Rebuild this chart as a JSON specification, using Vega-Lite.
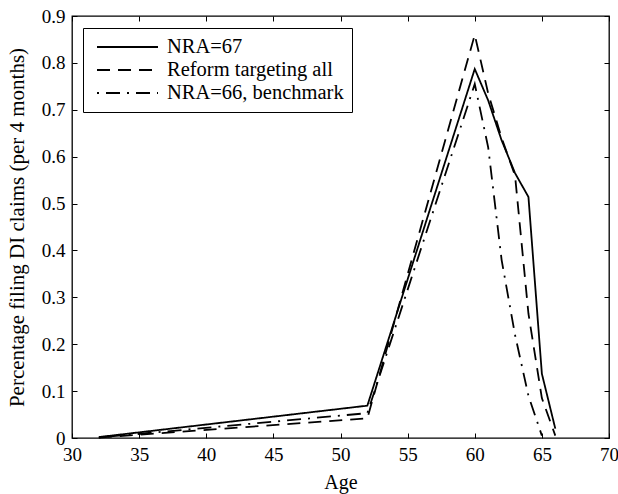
{
  "$schema": "https://vega.github.io/schema/vega-lite/v6.json",
  "width": 537,
  "height": 422,
  "autosize": {"type": "none"},
  "padding": {"left": 72, "top": 16, "right": 9, "bottom": 56},
  "background": "white",
  "config": {
    "font": "Liberation Serif",
    "view": {"stroke": "black", "strokeWidth": 1.3},
    "axis": {"domain": false, "grid": false, "tickColor": "black", "tickSize": -5, "tickWidth": 1, "labelFlush": false, "labelColor": "black", "titleColor": "black", "labelFont": "Liberation Serif", "titleFont": "Liberation Serif", "labelFontSize": 19, "titleFontSize": 20, "titleFontWeight": "normal"}
  },
  "data": {"values": [
    {"series": "NRA=67", "age": 32, "value": 0.002},
    {"series": "NRA=67", "age": 52, "value": 0.069},
    {"series": "NRA=67", "age": 60, "value": 0.787},
    {"series": "NRA=67", "age": 61, "value": 0.72},
    {"series": "NRA=67", "age": 62, "value": 0.635},
    {"series": "NRA=67", "age": 63, "value": 0.565},
    {"series": "NRA=67", "age": 64, "value": 0.514},
    {"series": "NRA=67", "age": 65, "value": 0.137},
    {"series": "NRA=67", "age": 66, "value": 0.02},
    {"series": "Reform targeting all", "age": 32, "value": 0.001},
    {"series": "Reform targeting all", "age": 52, "value": 0.042},
    {"series": "Reform targeting all", "age": 60, "value": 0.86},
    {"series": "Reform targeting all", "age": 61, "value": 0.735},
    {"series": "Reform targeting all", "age": 62, "value": 0.64},
    {"series": "Reform targeting all", "age": 63, "value": 0.56},
    {"series": "Reform targeting all", "age": 64, "value": 0.265},
    {"series": "Reform targeting all", "age": 65, "value": 0.085},
    {"series": "Reform targeting all", "age": 66, "value": 0.005},
    {"series": "NRA=66, benchmark", "age": 32, "value": 0.001},
    {"series": "NRA=66, benchmark", "age": 52, "value": 0.053},
    {"series": "NRA=66, benchmark", "age": 60, "value": 0.755},
    {"series": "NRA=66, benchmark", "age": 61, "value": 0.62},
    {"series": "NRA=66, benchmark", "age": 62, "value": 0.38},
    {"series": "NRA=66, benchmark", "age": 63, "value": 0.22},
    {"series": "NRA=66, benchmark", "age": 64, "value": 0.09},
    {"series": "NRA=66, benchmark", "age": 65, "value": 0.005}
  ]},
  "layer": [
    {
      "mark": {"type": "line", "color": "black", "strokeWidth": 1.8},
      "encoding": {
        "x": {"field": "age", "type": "quantitative", "scale": {"domain": [30, 70], "nice": false},
              "axis": {"orient": "bottom", "values": [30,35,40,45,50,55,60,65,70], "title": "Age", "labelPadding": 12, "titlePadding": 8}},
        "y": {"field": "value", "type": "quantitative", "scale": {"domain": [0, 0.9], "nice": false},
              "axis": {"orient": "left", "values": [0,0.1,0.2,0.3,0.4,0.5,0.6,0.7,0.8,0.9], "format": ".1~f", "title": "Percentage filing DI claims (per 4 months)", "titleFontSize": 21, "labelPadding": 12, "titlePadding": 14}},
        "strokeDash": {"field": "series", "type": "nominal",
          "scale": {"domain": ["NRA=67", "Reform targeting all", "NRA=66, benchmark"], "range": [[1, 0], [13, 8], [2, 7, 14, 7]]},
          "legend": {"title": null, "orient": "none", "legendX": 11, "legendY": 12, "strokeColor": "black", "fillColor": "white", "padding": 8, "symbolType": "M-0.5,0H5.6", "symbolSize": 400, "symbolStrokeWidth": 2, "symbolStrokeColor": "black", "symbolFillColor": "transparent", "labelFontSize": 20.5, "labelFont": "Liberation Serif", "labelColor": "black", "labelLimit": 0, "rowPadding": 1, "labelOffset": 54}}
      }
    },
    {
      "mark": {"type": "line", "opacity": 0},
      "encoding": {
        "x": {"field": "age", "type": "quantitative", "scale": {"domain": [30, 70], "nice": false},
              "axis": {"orient": "top", "values": [30,35,40,45,50,55,60,65,70], "labels": false, "title": null}},
        "y": {"field": "value", "type": "quantitative", "scale": {"domain": [0, 0.9], "nice": false},
              "axis": {"orient": "right", "values": [0,0.1,0.2,0.3,0.4,0.5,0.6,0.7,0.8,0.9], "labels": false, "title": null}},
        "detail": {"field": "series"}
      }
    }
  ],
  "resolve": {"axis": {"x": "independent", "y": "independent"}}
}
